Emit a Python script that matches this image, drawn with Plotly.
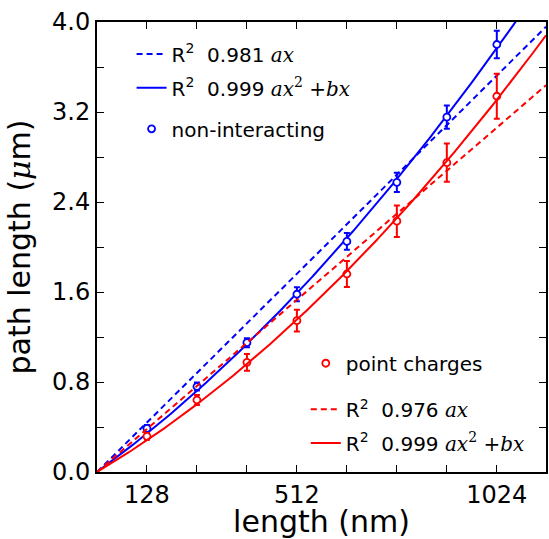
import numpy as np
import plotly.graph_objects as go

# ---- data ----
length_nm = [128, 256, 384, 512, 640, 768, 896, 1024]
path_nonint = [0.387, 0.76, 1.15, 1.58, 2.05, 2.575, 3.155, 3.80]
err_nonint = [0.03, 0.035, 0.04, 0.062, 0.074, 0.085, 0.103, 0.122]
path_charge = [0.317, 0.64, 0.975, 1.345, 1.76, 2.23, 2.75, 3.34]
err_charge = [0.03, 0.045, 0.075, 0.097, 0.115, 0.14, 0.17, 0.20]

r2_labels = {"nonint_lin": "0.981", "nonint_quad": "0.999",
             "charge_lin": "0.976", "charge_quad": "0.999"}

x_ticks = [128, 256, 384, 512, 640, 768, 896, 1024]
x_ticklabels = ["128", "", "", "512", "", "", "", "1024"]
y_ticks = [0.0, 0.4, 0.8, 1.2, 1.6, 2.0, 2.4, 2.8, 3.2, 3.6, 4.0]
y_ticklabels = ["0.0", "", "0.8", "", "1.6", "", "2.4", "", "3.2", "", "4.0"]

BLUE = "#0000ff"
RED = "#ff0000"

x = np.array(length_nm, dtype=float)
xf = np.linspace(0, 1150, 300)


def fit_lin(y):
    y = np.asarray(y)
    a = np.sum(x * y) / np.sum(x * x)
    return a * xf


def fit_quad(y):
    A = np.vstack([x ** 2, x]).T
    (a, b), *_ = np.linalg.lstsq(A, np.asarray(y), rcond=None)
    return a * xf ** 2 + b * xf


SERIF = "DejaVu Serif"
FONT = "DejaVu Sans"


def lbl(r2, quad):
    expr = "<i>ax</i><sup>2</sup> +<i>bx</i>" if quad else "<i>ax</i>"
    return ("R<sup>2</sup>  " + r2 + " <span style='font-family:" + SERIF + "'>"
            + expr + "</span>")


DASH = "6px,4px"
fig = go.Figure()

fig.add_trace(go.Scatter(x=xf, y=fit_lin(path_nonint), mode="lines",
                         line=dict(color=BLUE, width=2, dash=DASH),
                         name=lbl(r2_labels["nonint_lin"], False), legend="legend",
                         showlegend=True))
fig.add_trace(go.Scatter(x=xf, y=fit_quad(path_nonint), mode="lines",
                         line=dict(color=BLUE, width=2),
                         name=lbl(r2_labels["nonint_quad"], True), legend="legend2",
                         showlegend=True))
fig.add_trace(go.Scatter(x=length_nm, y=path_nonint, mode="markers",
                         marker=dict(symbol="circle", size=7, color="white",
                                     line=dict(color=BLUE, width=1.8)),
                         error_y=dict(type="data", array=err_nonint, color=BLUE,
                                      thickness=2, width=3),
                         name="non-interacting", legend="legend3", showlegend=True))

fig.add_trace(go.Scatter(x=length_nm, y=path_charge, mode="markers",
                         marker=dict(symbol="circle", size=7, color="white",
                                     line=dict(color=RED, width=1.8)),
                         error_y=dict(type="data", array=err_charge, color=RED,
                                      thickness=2, width=3),
                         name="point charges", legend="legend4", showlegend=True))
fig.add_trace(go.Scatter(x=xf, y=fit_lin(path_charge), mode="lines",
                         line=dict(color=RED, width=2, dash=DASH),
                         name=lbl(r2_labels["charge_lin"], False), legend="legend5",
                         showlegend=True))
fig.add_trace(go.Scatter(x=xf, y=fit_quad(path_charge), mode="lines",
                         line=dict(color=RED, width=2),
                         name=lbl(r2_labels["charge_quad"], True), legend="legend6",
                         showlegend=True))

axis_common = dict(showgrid=False, zeroline=False, showline=True, linecolor="black",
                   linewidth=2, mirror="ticks", ticks="inside", ticklen=7,
                   tickwidth=1.3, tickcolor="black",
                   tickfont=dict(family=FONT, size=24, color="black"))


def leg(xp, yp):
    return dict(x=xp, y=yp, xanchor="left", yanchor="middle", visible=True,
                bgcolor="rgba(0,0,0,0)", font=dict(family=FONT, size=20, color="black"),
                borderwidth=0)


fig.update_layout(
    width=549, height=539,
    margin=dict(l=97, r=1, t=22, b=66),
    paper_bgcolor="white", plot_bgcolor="white",
    font=dict(family=FONT, color="black"),
    showlegend=True,
    xaxis=dict(range=[0, 1150], tickmode="array", tickvals=x_ticks,
               ticktext=x_ticklabels,
               title=dict(text="length (nm)", font=dict(size=30), standoff=8),
               **axis_common),
    yaxis=dict(range=[0, 4.0], tickmode="array", tickvals=y_ticks,
               ticktext=y_ticklabels,
               title=dict(text="path length (<span style='font-family:" + SERIF
                          + "'><i>μ</i></span>m)", font=dict(size=30), standoff=13),
               **axis_common),
    legend=leg(0.077, 0.929),
    legend2=leg(0.077, 0.8537),
    legend3=leg(0.077, 0.7627),
    legend4=leg(0.465, 0.2417),
    legend5=leg(0.465, 0.1397),
    legend6=leg(0.465, 0.0643),
)

fig.write_html("out.html")
